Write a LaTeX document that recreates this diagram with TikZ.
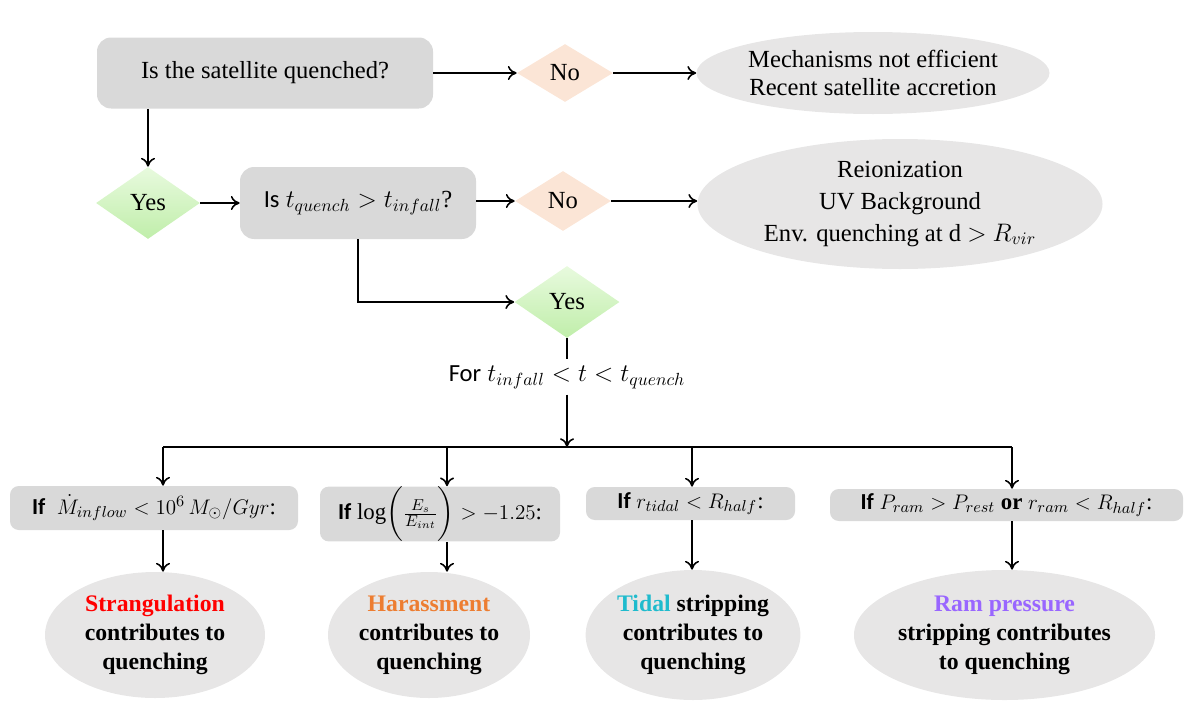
\documentclass[tikz,border=0pt]{standalone}
\usepackage{fontspec}
\setmainfont{Liberation Serif}
\newfontfamily\calibri{Carlito}
\usepackage{amsmath, amssymb}
\usetikzlibrary{shapes.geometric, arrows.meta, positioning, calc}

\definecolor{boxgray}{RGB}{217, 217, 217}
\definecolor{ellgray}{RGB}{231, 230, 230}
\definecolor{nopeach}{RGB}{251, 229, 214}
\definecolor{yeslight}{RGB}{232, 250, 222}
\definecolor{yesdark}{RGB}{192, 238, 170}
\definecolor{strangred}{RGB}{255, 0, 0}
\definecolor{harassorange}{RGB}{237, 125, 49}
\definecolor{tidalcyan}{RGB}{31, 187, 205}
\definecolor{rampurple}{RGB}{153, 102, 255}

\tikzset{
  qbox/.style={fill=boxgray, rounded corners=8pt, inner sep=0pt, font=\fontsize{14}{16}\selectfont},
  condbox/.style={fill=boxgray, rounded corners=5pt, inner sep=0pt, font=\fontsize{13}{15}\selectfont},
  nodiamond/.style={diamond, fill=nopeach, inner sep=0pt, font=\fontsize{14}{16}\selectfont},
  yesdiamond/.style={diamond, top color=yeslight, bottom color=yesdark, inner sep=0pt, font=\fontsize{14}{16}\selectfont},
  endellipse/.style={ellipse, fill=ellgray, inner sep=0pt, align=center, font=\fontsize{14}{16}\selectfont},
  resellipse/.style={ellipse, fill=ellgray, inner sep=0pt, align=center, font=\fontsize{13.5}{16.5}\selectfont},
  arr/.style={-{To[length=5pt, width=8pt]}, line width=0.9pt},
  plain/.style={line width=0.9pt}
}

\begin{document}
\begin{tikzpicture}
  \useasboundingbox (0, 0) rectangle (24, -14.52);

  % first question
  \node[qbox, minimum width=6.72cm, minimum height=1.42cm] (quenched) at (5.30, -1.46) {Is the satellite quenched?};
  \node[nodiamond, minimum width=1.92cm, minimum height=1.16cm] (no1) at (11.30, -1.46) {No};
  \node[endellipse, minimum width=6.86cm, minimum height=1.64cm] (notefficient) at (17.46, -1.46)
    {Mechanisms not efficient\\Recent satellite accretion};

  % second question
  \node[yesdiamond, minimum width=2.08cm, minimum height=1.44cm] (yes1) at (2.96, -4.06) {Yes};
  \node[qbox, minimum width=4.72cm, minimum height=1.44cm] (infall) at (7.16, -4.06)
    {{\calibri Is} $t_{quench} > t_{infall}$?};
  \node[nodiamond, minimum width=1.92cm, minimum height=1.20cm] (no2) at (11.26, -4.02) {No};
  \node[endellipse, minimum width=8.10cm, minimum height=2.60cm] (reion) at (18.00, -4.08)
    {Reionization\\[2pt] UV Background\\[2pt] Env. quenching at d $>$ $R_{vir}$};

  \node[yesdiamond, minimum width=2.10cm, minimum height=1.44cm] (yes2) at (11.34, -6.04) {Yes};
  \node[font=\fontsize{14}{16}\selectfont] (fortime) at (11.34, -7.54)
    {{\calibri For} $t_{infall} < t < t_{quench}$};

  % split into the four mechanisms
  \coordinate (split) at (11.34, -8.94);
  \coordinate (s3) at (3.26, -8.94);
  \coordinate (s4) at (8.94, -8.94);
  \coordinate (s5) at (13.84, -8.94);
  \coordinate (s6) at (20.24, -8.94);

  \node[condbox, minimum width=5.76cm, minimum height=0.88cm] (inflow) at (3.08, -10.16)
    {{\calibri\bfseries If}\ \ $\dot{M}_{inflow} < 10^{6}\, M_{\odot}/Gyr$:};
  \node[condbox, minimum width=4.80cm, minimum height=1.08cm] (energy) at (8.80, -10.28)
    {{\calibri\bfseries If} $\log\biggl(\frac{E_s}{E_{int}}\biggr) > -1.25$:};
  \node[condbox, minimum width=4.18cm, minimum height=0.66cm] (tidal) at (13.81, -10.07)
    {{\calibri\bfseries If} $r_{tidal} < R_{half}$:};
  \node[condbox, minimum width=7.06cm, minimum height=0.64cm] (ram) at (20.13, -10.10)
    {{\calibri\bfseries If} $P_{ram} > P_{rest}$ \textbf{or} $r_{ram} < R_{half}$:};

  \node[resellipse, minimum width=4.40cm, minimum height=2.52cm] (strang) at (3.10, -12.70)
    {\bfseries\textcolor{strangred}{Strangulation}\\\bfseries contributes to\\\bfseries quenching};
  \node[resellipse, minimum width=4.04cm, minimum height=2.52cm] (harass) at (8.58, -12.70)
    {\bfseries\textcolor{harassorange}{Harassment}\\\bfseries contributes to\\\bfseries quenching};
  \node[resellipse, minimum width=3.88cm, minimum height=2.60cm] (tidstrip) at (13.86, -12.70)
    {\bfseries\textcolor{tidalcyan}{Tidal} stripping\\\bfseries contributes to\\\bfseries quenching};
  \node[resellipse, minimum width=4.70cm, minimum height=2.60cm] (ramstrip) at (20.09, -12.70)
    {\bfseries\textcolor{rampurple}{Ram pressure}\\\bfseries stripping contributes\\\bfseries to quenching};

  % connectors
  \draw[arr] (quenched) -- (no1);
  \draw[arr] (no1) -- (notefficient);
  \draw[arr] (quenched.south -| yes1.north) -- (yes1.north);
  \draw[arr] (yes1) -- (infall);
  \draw[arr] (infall.east |- no2.west) -- (no2.west);
  \draw[arr] (no2.east) -- (reion.west |- no2.east);
  \draw[arr] (infall.south) |- (yes2.west);
  \draw[plain] (yes2.south) -- (fortime.north);
  \draw[arr] (fortime.south) -- (split);
  \draw[plain] (s3) -- (s6);
  \foreach \s/\c/\r in {s3/inflow/strang, s4/energy/harass, s5/tidal/tidstrip, s6/ram/ramstrip} {
    \draw[arr] (\s) -- (\s |- \c.north);
    \draw[arr] (\s |- \c.south) -- (\s |- \r.north);
  }
\end{tikzpicture}
\end{document}
